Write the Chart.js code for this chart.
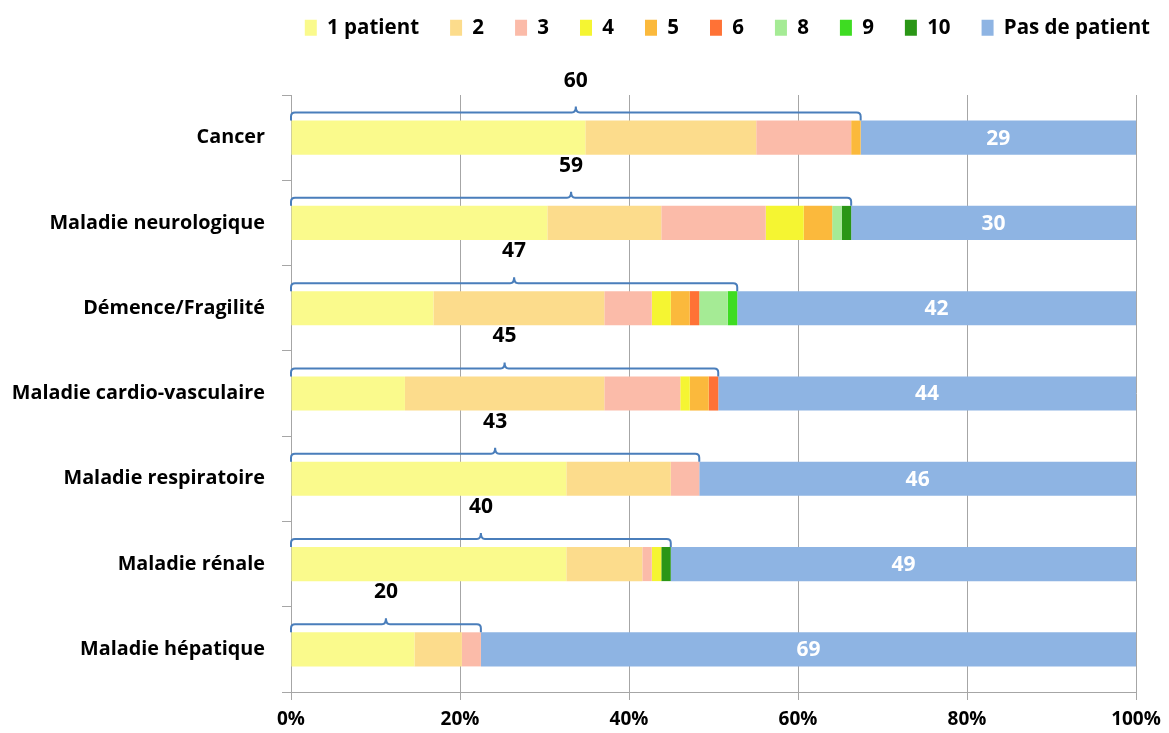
<!DOCTYPE html>
<html><head><meta charset="utf-8">
<script src="https://cdn.jsdelivr.net/npm/chart.js@4"></script>
<style>html,body{margin:0;padding:0;background:#fff}#wrap{width:1169px;height:733px;position:relative}</style>
</head><body><div id="wrap"><canvas id="c" width="1169" height="733"></canvas></div>
<script>
const categories = ['Cancer','Maladie neurologique','Démence/Fragilité','Maladie cardio-vasculaire','Maladie respiratoire','Maladie rénale','Maladie hépatique'];
const seriesNames = ['1 patient','2','3','4','5','6','8','9','10','Pas de patient'];
const onePatient    = [31,27,15,12,29,29,13];
const twoPatients   = [18,12,18,21,11, 8, 5];
const threePatients = [10,11, 5, 8, 3, 1, 2];
const fourPatients  = [ 0, 4, 2, 1, 0, 1, 0];
const fivePatients  = [ 1, 3, 2, 2, 0, 0, 0];
const sixPatients   = [ 0, 0, 1, 1, 0, 0, 0];
const eightPatients = [ 0, 1, 3, 0, 0, 0, 0];
const ninePatients  = [ 0, 0, 1, 0, 0, 0, 0];
const tenPatients   = [ 0, 1, 0, 0, 0, 1, 0];
const noPatient     = [29,30,42,44,46,49,69];
const xTickLabels = ['0%','20%','40%','60%','80%','100%'];
const seriesColors = ['#FAFA8C','#FCDC8C','#FBBBA9','#F5F532','#FBB93C','#FF7236','#A5EB95','#3EDC22','#2A9616','#8EB4E3'];

const seriesValues = [onePatient,twoPatients,threePatients,fourPatients,fivePatients,sixPatients,eightPatients,ninePatients,tenPatients,noPatient];
const totals = categories.map((c,i)=>seriesValues.reduce((s,a)=>s+a[i],0));
const patientsTotal = categories.map((c,i)=>totals[i]-noPatient[i]);
const toPct = arr => arr.map((v,i)=>v/totals[i]*100);

const FONT = '"Open Sans"';
const bold = size => ({family: FONT, size, weight: 'bold'});

const bracketPlugin = {
  id: 'brackets',
  afterLayout(chart){
    const lg = chart.legend;
    const dx = 45, dy = 47;
    lg.left += dx; lg.right += dx; lg.top -= dy; lg.bottom -= dy;
  },
  afterDatasetsDraw(chart){
    const ctx = chart.ctx, xs = chart.scales.x;
    const meta0 = chart.getDatasetMeta(0);
    const metaLast = chart.getDatasetMeta(seriesNames.length - 1);
    categories.forEach((c,i)=>{
      const bar = meta0.data[i];
      const top = bar.y - bar.height/2;
      const x0 = xs.getPixelForValue(0);
      const x1 = xs.getPixelForValue(patientsTotal[i]/totals[i]*100);
      const y = top - 8, r = 4, xm = (x0+x1)/2;
      ctx.save();
      ctx.strokeStyle = '#4A7EBB'; ctx.lineWidth = 2;
      ctx.beginPath();
      ctx.moveTo(x0, top);
      ctx.lineTo(x0, y + r);
      ctx.quadraticCurveTo(x0, y, x0 + r, y);
      ctx.lineTo(xm - r, y);
      ctx.quadraticCurveTo(xm, y, xm, y - r - 2);
      ctx.quadraticCurveTo(xm, y, xm + r, y);
      ctx.lineTo(x1 - r, y);
      ctx.quadraticCurveTo(x1, y, x1, y + r);
      ctx.lineTo(x1, top);
      ctx.stroke();
      ctx.font = 'bold 21px ' + FONT;
      ctx.textAlign = 'center'; ctx.textBaseline = 'middle';
      ctx.fillStyle = '#000';
      ctx.fillText(String(patientsTotal[i]), xm, y - 32);
      const b = metaLast.data[i];
      ctx.fillStyle = '#fff';
      ctx.fillText(String(noPatient[i]), (b.x + b.base)/2, b.y + 1);
      ctx.restore();
    });
  }
};

new Chart(document.getElementById('c'), {
  type: 'bar',
  data: {
    labels: categories,
    datasets: seriesNames.map((n,k)=>({
      label: n,
      data: toPct(seriesValues[k]),
      backgroundColor: seriesColors[k],
      borderWidth: 0,
      barPercentage: 0.4,
      categoryPercentage: 1
    }))
  },
  options: {
    indexAxis: 'y',
    responsive: false,
    animation: false,
    layout: {padding: {left: 0, right: 33, top: 33.5, bottom: 0}},
    plugins: {
      legend: {
        position: 'top', align: 'end',
        labels: {boxWidth: 12, boxHeight: 16, padding: 31, font: bold(20.5), color: '#000'}
      },
      tooltip: {enabled: false}
    },
    scales: {
      x: {
        stacked: true, min: 0, max: 100,
        ticks: {stepSize: 20, callback: (v, idx) => xTickLabels[idx], font: bold(19), color: '#000', padding: 8, maxRotation: 0},
        grid: {color: '#A6A6A6', lineWidth: 1, tickLength: 8},
        border: {color: '#A6A6A6'},
        afterFit(s){ s.height = 41; }
      },
      y: {
        stacked: true,
        ticks: {font: bold(19.8), color: '#000', padding: 17},
        grid: {offset: true, drawOnChartArea: false, tickLength: 9, color: '#A6A6A6'},
        border: {color: '#A6A6A6'},
        afterFit(s){ s.width = 291; }
      }
    }
  },
  plugins: [bracketPlugin]
});
</script>
</body></html>
